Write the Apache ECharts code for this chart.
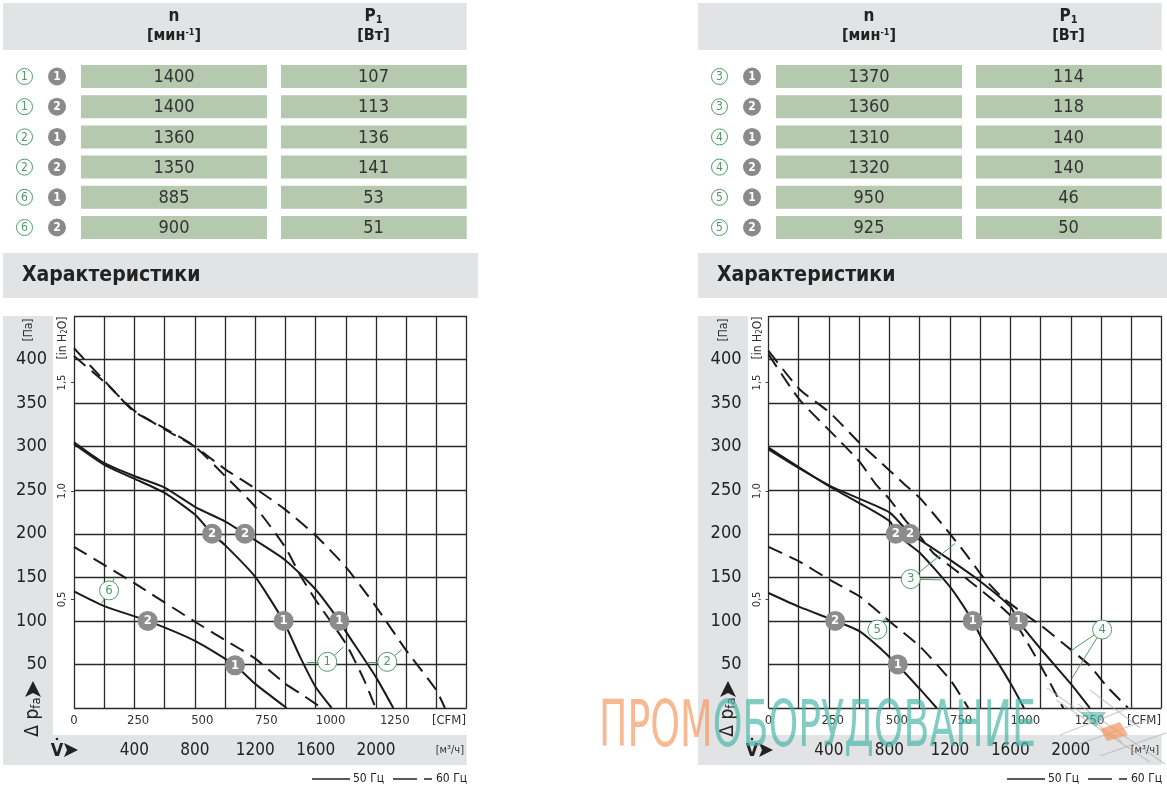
<!DOCTYPE html>
<html>
<head>
<meta charset="utf-8">
<script src="https://cdn.jsdelivr.net/npm/echarts@6.0.0/dist/echarts.min.js"></script>
<style>
html,body{margin:0;padding:0;background:#fff}
#main{width:1167px;height:796px}
</style>
</head>
<body>
<div id="main"></div>
<script>
// table data
var leftCurveNo = [1, 1, 2, 2, 6, 6];
var leftPointNo = [1, 2, 1, 2, 1, 2];
var leftSpeed = [1400, 1400, 1360, 1350, 885, 900];
var leftPower = [107, 113, 136, 141, 53, 51];
var rightCurveNo = [3, 3, 4, 4, 5, 5];
var rightPointNo = [1, 2, 1, 2, 1, 2];
var rightSpeed = [1370, 1360, 1310, 1320, 950, 925];
var rightPower = [114, 118, 140, 140, 46, 50];

// tick labels
var paTicks = [50, 100, 150, 200, 250, 300, 350, 400];
var flowTicks = [400, 800, 1200, 1600, 2000];
var cfmTicks = [0, 250, 500, 750, 1000, 1250];
var inH2OTicks = [0.5, 1.0, 1.5];

// curves, [м³/ч, Па]
var left60a = [[0,413],[216,373],[393,341],[600,321],[801,300],[1002,266],[1200,231],[1397,185],[1496,153],[1600,124],[1799,74],[1916,34],[1997,0]];
var left60b = [[0,404],[216,372],[393,342],[600,320],[801,300],[1002,274],[1200,252],[1397,228],[1600,198],[1799,162],[1997,117],[2196,67],[2397,21],[2456,0]];
var left50a = [[0,303],[201,279],[402,263],[600,247],[801,222],[914,200],[1000,187],[1198,151],[1386,100],[1496,59],[1600,24],[1706,0]];
var left50b = [[0,305],[201,281],[402,266],[600,253],[801,231],[1002,214],[1132,200],[1397,170],[1600,136],[1757,100],[1799,88],[1997,36],[2114,0]];
var left60c = [[0,185],[402,143],[801,99],[1000,78],[1198,57],[1397,28],[1496,17],[1640,0]];
var left50c = [[0,134],[201,117],[488,100],[801,77],[1066,49],[1198,28],[1408,0]];

var right60a = [[0,410],[205,366],[406,339],[604,304],[749,281],[892,258],[1002,241],[1168,207],[1300,178],[1421,150],[1540,128],[1660,112],[1800,95],[1950,74],[2123,49],[2237,25],[2379,0]];
var right60b = [[0,406],[205,354],[452,310],[601,283],[705,258],[804,239],[903,216],[1002,197],[1090,178],[1200,163],[1300,150],[1400,136],[1500,122],[1600,106],[1675,86],[1750,64],[1850,33],[1950,0]];
var right50a = [[0,299],[205,276],[406,254],[604,235],[804,214],[844,200],[1002,178],[1201,139],[1351,100],[1404,82],[1500,57],[1602,28],[1690,0]];
var right50b = [[0,297],[205,275],[406,255],[604,240],[804,224],[936,200],[1002,193],[1201,170],[1404,145],[1602,116],[1652,100],[1800,68],[1999,28],[2126,0]];
var right60c = [[0,185],[205,168],[406,147],[604,128],[804,99],[1005,70],[1203,32],[1322,0]];
var right50c = [[0,132],[205,116],[441,100],[604,88],[749,67],[855,49],[1005,21],[1113,0]];

// operating points (gray) and curve tags (green)
var leftPoints = [[914,200,'2'],[1132,200,'2'],[1388,100,'1'],[1757,100,'1'],[488,100,'2'],[1066,49,'1']];
var rightPoints = [[842,200,'2'],[936,200,'2'],[1351,100,'1'],[1652,100,'1'],[441,100,'2'],[855,50,'1']];
var leftTags = [[232,135,'6'],[1677,53,'1'],[2074,53,'2']];
var rightTags = [[941,148,'3'],[720,90,'5'],[2207,90,'4']];
var leftLeaders = [[[232,135],[271,151]],[[232,135],[183,120]],[[1677,53],[1543,53]],[[1677,53],[1783,70]],[[2074,53],[1938,53]],[[2074,53],[2170,67]]];
var rightLeaders = [[[941,148],[1234,189]],[[941,148],[1146,147]],[[720,90],[780,105]],[[2207,90],[1994,65]],[[2207,90],[2007,34]]];

var PA_PER_INH2O = 249.089;
var M3H_PER_CFM = 1.699;

var COND = '"Liberation Sans Narrow","DejaVu Sans Condensed","Roboto Condensed",Roboto,sans-serif';
var GRAY = '#e2e3e4';
var GREEN_CELL = '#b4c9ae';
var TAG_GREEN = '#4f9a66';
var INK = '#1b1b1b';

var chart = echarts.init(document.getElementById('main'), null, {renderer: 'canvas'});

function plain(v) { return String(v); }

function tableGraphics(ox, curveNo, pointNo, speed, power) {
    var els = [];
    els.push({type:'rect', shape:{x:ox+3, y:3, width:463.7, height:47}, style:{fill:GRAY}});
    els.push({type:'text', x:ox+174, y:17, style:{text:'n', font:'bold 17px '+COND, fill:'#222', align:'center', verticalAlign:'middle'}});
    els.push({type:'text', x:ox+174, y:36, style:{text:'[мин{sup|-1}]', font:'bold 16px '+COND, fill:'#222', align:'center', verticalAlign:'middle',
        rich:{sup:{font:'bold 9px '+COND, fill:'#222', verticalAlign:'top', padding:[0,0,6,0]}}}});
    els.push({type:'text', x:ox+373.5, y:17, style:{text:'P{sub|1}', font:'bold 17px '+COND, fill:'#222', align:'center', verticalAlign:'middle',
        rich:{sub:{font:'bold 11px '+COND, fill:'#222', verticalAlign:'bottom', padding:[6,0,0,0]}}}});
    els.push({type:'text', x:ox+373.5, y:36, style:{text:'[Вт]', font:'bold 16px '+COND, fill:'#222', align:'center', verticalAlign:'middle'}});
    for (var i = 0; i < speed.length; i++) {
        var cy = 76.5 + i * 30.2;
        els.push({type:'rect', shape:{x:ox+81, y:cy-11.5, width:186, height:23}, style:{fill:GREEN_CELL}});
        els.push({type:'rect', shape:{x:ox+281, y:cy-11.5, width:185.7, height:23}, style:{fill:GREEN_CELL}});
        els.push({type:'text', x:ox+174, y:cy+1, style:{text:String(speed[i]), font:'18px '+COND, fill:'#333', align:'center', verticalAlign:'middle'}});
        els.push({type:'text', x:ox+373.5, y:cy+1, style:{text:String(power[i]), font:'18px '+COND, fill:'#333', align:'center', verticalAlign:'middle'}});
        els.push({type:'circle', shape:{cx:ox+24.5, cy:cy, r:8}, style:{fill:'#fff', stroke:TAG_GREEN, lineWidth:1}});
        els.push({type:'text', x:ox+24.5, y:cy+0.5, style:{text:String(curveNo[i]), font:'12px '+COND, fill:TAG_GREEN, align:'center', verticalAlign:'middle'}});
        els.push({type:'circle', shape:{cx:ox+57, cy:cy, r:9}, style:{fill:'#8a8a8a'}});
        els.push({type:'text', x:ox+57, y:cy+0.5, style:{text:String(pointNo[i]), font:'bold 12px '+COND, fill:'#fff', align:'center', verticalAlign:'middle'}});
    }
    // section header
    els.push({type:'rect', shape:{x:ox+3, y:253, width:475, height:45}, style:{fill:GRAY}});
    els.push({type:'text', x:ox+22, y:276, style:{text:'Характеристики', font:'bold 21px '+COND, fill:'#222', align:'left', verticalAlign:'middle'}});
    return els;
}

function chartFrameGraphics(ox) {
    var els = [];
    els.push({type:'rect', z:-10, shape:{x:ox+3, y:316, width:50, height:449}, style:{fill:GRAY}});
    els.push({type:'rect', z:-10, shape:{x:ox+3, y:735, width:463.7, height:30}, style:{fill:GRAY}});
    els.push({type:'text', x:ox+29, y:330, rotation:Math.PI/2, style:{text:'[Па]', font:'12px '+COND, fill:'#333', align:'center', verticalAlign:'middle'}});
    els.push({type:'text', x:ox+63, y:338, rotation:Math.PI/2, style:{text:'[in H{sub|2}O]', font:'12px '+COND, fill:'#333', align:'center', verticalAlign:'middle',
        rich:{sub:{font:'8px '+COND, fill:'#333', verticalAlign:'bottom'}}}});
    // Δ p_fa with arrow
    els.push({type:'text', x:ox+33, y:717, rotation:Math.PI/2, style:{text:'Δ p{s|fa}', font:'19px '+COND, fill:'#222', align:'center', verticalAlign:'middle',
        rich:{s:{font:'13px '+COND, fill:'#222', verticalAlign:'bottom', padding:[8,0,0,0]}}}});
    els.push({type:'polygon', shape:{points:[[ox+33,681],[ox+41,697],[ox+33,693],[ox+25,697]]}, style:{fill:'#222'}});
    // V-dot with arrow
    els.push({type:'text', x:ox+57, y:751, style:{text:'V', font:'bold 18px '+COND, fill:'#222', align:'center', verticalAlign:'middle'}});
    els.push({type:'circle', shape:{cx:ox+57, cy:739, r:1.3}, style:{fill:'#222'}});
    els.push({type:'polygon', shape:{points:[[ox+64,743],[ox+78,750],[ox+64,757],[ox+67,750]]}, style:{fill:'#222'}});
    els.push({type:'text', x:ox+466, y:721, style:{text:'[CFM]', font:'13px '+COND, fill:'#333', align:'right', verticalAlign:'middle'}});
    els.push({type:'text', x:ox+464, y:750, style:{text:'[м³/ч]', font:'11px '+COND, fill:'#333', align:'right', verticalAlign:'middle'}});
    // legend
    els.push({type:'line', shape:{x1:ox+312, y1:779, x2:ox+350, y2:779}, style:{stroke:'#222', lineWidth:1.5}});
    els.push({type:'text', x:ox+353, y:779, style:{text:'50 Гц', font:'12px '+COND, fill:'#222', align:'left', verticalAlign:'middle'}});
    els.push({type:'line', shape:{x1:ox+393, y1:779, x2:ox+417, y2:779}, style:{stroke:'#222', lineWidth:1.5}});
    els.push({type:'line', shape:{x1:ox+424, y1:779, x2:ox+432, y2:779}, style:{stroke:'#222', lineWidth:1.5}});
    els.push({type:'text', x:ox+436, y:779, style:{text:'60 Гц', font:'12px '+COND, fill:'#222', align:'left', verticalAlign:'middle'}});
    return els;
}

function watermarkGraphics() {
    var font = '64px ' + COND;
    var ctx = document.createElement('canvas').getContext('2d');
    ctx.font = font;
    var w = ctx.measureText('ПРОМОБОРУДОВАНИЕ').width;
    var sx = 437 / w;
    var els = [];
    els.push({type:'text', z:100, x:599, y:729, scaleX:sx, style:{text:'{o|ПРОМ}{t|ОБОРУДОВАНИЕ}', font:font, align:'left', verticalAlign:'middle',
        rich:{o:{font:font, fill:'rgba(244,150,95,0.68)'}, t:{font:font, fill:'rgba(70,182,166,0.68)'}}}});
    var lines = [[[1047,688],[1122,742]],[[1056,700],[1150,762]],[[1078,704],[1165,764]],[[1060,735],[1134,706]],[[1074,746],[1152,718]],[[1100,756],[1166,733]],[[1090,690],[1140,728]]];
    lines.forEach(function (l) {
        els.push({type:'line', z:100, shape:{x1:l[0][0], y1:l[0][1], x2:l[1][0], y2:l[1][1]}, style:{stroke:'rgba(170,170,170,0.6)', lineWidth:1.2}});
    });
    els.push({type:'polygon', z:100, shape:{points:[[1080,712],[1106,712],[1096,727]]}, style:{fill:'rgba(70,182,166,0.6)'}});
    els.push({type:'polygon', z:100, shape:{points:[[1100,729],[1120,722],[1128,735],[1107,741]]}, style:{fill:'rgba(244,150,95,0.7)'}});
    return els;
}

function axesFor(gi) {
    var x = [{
        gridIndex:gi, type:'value', min:0, max:2600, interval:200, position:'bottom',
        axisLine:{show:false}, axisTick:{show:false},
        splitLine:{show:true, lineStyle:{color:'#2a2a2a', width:1.3}},
        axisLabel:{customValues:flowTicks, formatter:plain, margin:34, fontSize:17, color:'#222', fontFamily:COND}
    }, {
        gridIndex:gi, type:'value', min:0, max:2600 / M3H_PER_CFM, interval:250, position:'bottom',
        axisLine:{show:false}, axisTick:{show:false}, splitLine:{show:false},
        axisLabel:{customValues:cfmTicks, formatter:plain, margin:6, fontSize:13, color:'#333', fontFamily:COND}
    }];
    var y = [{
        gridIndex:gi, type:'value', min:0, max:450, interval:50, position:'left',
        axisLine:{show:false}, axisTick:{show:false},
        splitLine:{show:true, lineStyle:{color:'#2a2a2a', width:1.3}},
        axisLabel:{customValues:paTicks, formatter:plain, margin:27, fontSize:18, color:'#222', fontFamily:COND}
    }, {
        gridIndex:gi, type:'value', min:0, max:450 / PA_PER_INH2O, position:'left',
        axisLine:{show:false}, splitLine:{show:false},
        axisTick:{show:true, customValues:inH2OTicks, length:3, lineStyle:{color:'#444'}},
        axisLabel:{customValues:inH2OTicks, rotate:90, margin:6, fontSize:11, color:'#333', fontFamily:COND,
            formatter:function (v) { return v.toFixed(1).replace('.', ','); }}
    }];
    return {x:x, y:y};
}

function curve(data, dashed, gi) {
    return {type:'line', xAxisIndex:gi*2, yAxisIndex:gi*2, data:data, smooth:0.2, symbol:'none', silent:true, z:3,
        lineStyle:{color:INK, width:2, type: dashed ? [15, 8] : 'solid'}};
}

function pointSeries(pts, gi) {
    return {type:'scatter', xAxisIndex:gi*2, yAxisIndex:gi*2, z:6, symbol:'circle', symbolSize:20,
        data:pts.map(function (p) { return {value:[p[0], p[1]], name:p[2]}; }),
        itemStyle:{color:'#8c8c8c', opacity:1},
        label:{show:true, position:'inside', formatter:'{b}', color:'#fff', fontWeight:'bold', fontSize:13, fontFamily:COND}};
}

function tagSeries(tags, gi) {
    return {type:'scatter', xAxisIndex:gi*2, yAxisIndex:gi*2, z:7, symbol:'circle', symbolSize:19,
        data:tags.map(function (p) { return {value:[p[0], p[1]], name:p[2]}; }),
        itemStyle:{color:'#fff', borderColor:TAG_GREEN, borderWidth:1, opacity:1},
        label:{show:true, position:'inside', formatter:'{b}', color:TAG_GREEN, fontSize:13, fontFamily:COND}};
}

function leaderSeries(leaders, gi) {
    return {type:'lines', coordinateSystem:'cartesian2d', xAxisIndex:gi*2, yAxisIndex:gi*2, z:5, silent:true,
        data:leaders.map(function (l) { return {coords:l}; }),
        lineStyle:{color:TAG_GREEN, width:1, opacity:1}};
}

var aL = axesFor(0), aR = axesFor(1);

var option = {
    animation:false,
    backgroundColor:'#fff',
    grid:[
        {left:74, top:316, width:392.7, height:392},
        {left:768.5, top:316, width:393, height:392}
    ],
    xAxis: aL.x.concat(aR.x),
    yAxis: aL.y.concat(aR.y),
    graphic: [].concat(
        tableGraphics(0, leftCurveNo, leftPointNo, leftSpeed, leftPower),
        tableGraphics(695, rightCurveNo, rightPointNo, rightSpeed, rightPower),
        chartFrameGraphics(0),
        chartFrameGraphics(695),
        watermarkGraphics()
    ),
    series: [
        curve(left60a, true, 0), curve(left60b, true, 0),
        curve(left50a, false, 0), curve(left50b, false, 0),
        curve(left60c, true, 0), curve(left50c, false, 0),
        leaderSeries(leftLeaders, 0), pointSeries(leftPoints, 0), tagSeries(leftTags, 0),
        curve(right60a, true, 1), curve(right60b, true, 1),
        curve(right50a, false, 1), curve(right50b, false, 1),
        curve(right60c, true, 1), curve(right50c, false, 1),
        leaderSeries(rightLeaders, 1), pointSeries(rightPoints, 1), tagSeries(rightTags, 1)
    ]
};
chart.setOption(option);
</script>
</body>
</html>
